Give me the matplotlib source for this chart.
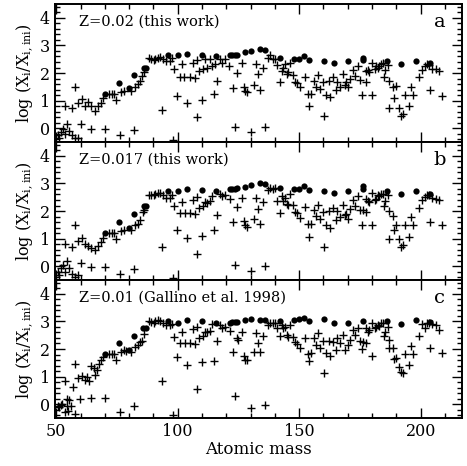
import numpy as np
import matplotlib
matplotlib.use("Agg")
import matplotlib.pyplot as plt
from matplotlib.ticker import MultipleLocator

plt.rcParams['font.family'] = ['DejaVu Serif']
plt.rcParams['mathtext.fontset'] = 'dejavuserif'

# ---- panel a : Z=0.02 (this work) ----
a_cross_mass = [50.9, 51.3, 52.0, 52.9, 53.6, 54.5, 55.2, 56.4, 57.7, 59.1, 60.2, 64.5, 70.1, 76.1, 81.9, 98.0,
                53.8, 56.6, 57.9, 59.0, 60.8, 62.0, 63.2, 64.2, 66.0, 67.2, 68.3, 69.4, 71.7, 72.8, 73.7, 74.8,
                76.7, 78.0, 80.9, 82.6, 83.5, 84.6, 85.3, 86.3, 88.0, 89.0, 90.1, 90.7, 91.7, 92.8, 93.9, 95.1,
                96.9, 97.6, 98.5, 101.0, 101.9, 102.7, 105.0, 106.1, 107.1, 108.0, 108.8, 110.5, 111.4, 112.1,
                113.2, 114.3, 115.2, 117.6, 118.4, 119.3, 121.1, 122.7, 124.4,
                93.7, 99.9, 103.9, 108.0, 109.8, 114.8, 116.2, 123.4,
                126.4, 127.1, 127.8, 128.7, 131.2, 133.9, 132.3, 133.2, 135.0, 130.1, 135.9, 137.3, 138.0, 139.1,
                140.0, 141.0, 142.8, 143.5, 144.1, 144.8, 145.5, 146.2, 147.3, 142.1, 148.2, 148.9, 150.5, 152.3,
                153.7, 154.8, 154.0, 156.0, 157.1, 157.8, 158.7, 159.8, 160.2, 160.9, 162.1, 162.8, 163.9, 165.0,
                165.5, 166.9, 168.0, 168.7, 170.1, 169.4, 171.0, 172.1, 172.8, 174.1, 175.1, 177.3, 175.9, 180.0,
                177.6, 178.2, 178.9, 180.0, 181.0, 181.7, 182.3, 183.0, 183.7, 184.4, 186.4, 185.5, 184.8, 187.1,
                188.5, 189.8, 188.9, 186.8, 190.9, 191.9, 192.6, 195.3, 193.7, 196.0, 196.9, 199.1, 200.5, 201.8,
                202.8, 203.5, 204.8, 206.2, 207.6, 203.9, 208.9]
a_cross_val = [-0.26, -0.34, -0.14, -0.01, -0.20, 0.15, -0.11, -0.26, -0.36, -0.34, 0.14, -0.02, -0.02, -0.26, -0.08, -0.44,
               0.82, 0.75, 1.51, 0.92, 1.06, 0.80, 0.94, 0.79, 0.64, 0.79, 0.91, 1.08, 1.24, 1.24, 1.24, 1.03,
               1.30, 1.36, 1.35, 1.51, 1.60, 1.72, 1.90, 2.02, 2.56, 2.52, 2.47, 2.52, 2.56, 2.59, 2.50, 2.44,
               2.44, 2.56, 2.14, 1.87, 2.32, 1.84, 1.84, 2.38, 1.83, 2.46, 2.08, 2.14, 2.52, 2.20,
               2.50, 2.26, 2.32, 2.52, 2.38, 2.50, 2.26, 1.44, 2.00,
               0.67, 1.18, 0.91, 0.40, 1.02, 1.24, 1.72, 0.04,
               2.38, 1.48, 1.36, 1.32, 1.56, 1.39, 2.32, 1.96, 2.20, -0.12, 0.04, 2.56, 2.64, 2.50,
               2.52, 2.28, 2.08, 2.20, 2.32, 1.96, 2.02, 2.38, 1.92, 1.66, 1.66, 1.63, 1.51, 1.84,
               1.24, 1.24, 0.79, 1.72, 1.51, 1.92, 1.42, 1.66, 0.43, 1.20, 1.72, 1.12, 1.84, 1.39,
               1.68, 1.48, 1.96, 1.56, 1.48, 1.66, 1.78, 2.11, 1.90, 2.26, 1.74, 1.66, 1.20, 1.20,
               2.08, 2.11, 2.04, 2.38, 2.16, 2.26, 2.20, 2.26, 2.32, 2.35, 2.28, 2.11, 1.87, 1.72,
               1.51, 1.54, 1.08, 0.72, 0.72, 0.46, 0.52, 0.79, 1.20, 1.51, 1.20, 1.84, 2.11, 2.26,
               2.32, 2.28, 2.14, 2.16, 2.08, 1.39, 1.18]
a_dot_mass = [70.1, 76.0, 79.8, 81.9, 86.0, 86.9, 95.9, 100.0, 104.0, 109.8, 115.6, 121.4, 122.3, 123.4, 124.4,
              127.8, 130.1, 133.9, 135.9, 142.1, 148.0, 150.0, 151.9, 154.1, 160.2, 164.2, 170.1, 176.2, 176.2,
              186.0, 191.9, 198.0, 203.9]
a_dot_val = [1.24, 1.63, 1.44, 1.92, 2.20, 2.20, 2.64, 2.64, 2.70, 2.67, 2.62, 2.64, 2.65, 2.65, 2.67,
             2.76, 2.80, 2.86, 2.83, 2.56, 2.52, 2.50, 2.60, 2.46, 2.44, 2.38, 2.44, 2.56, 2.47,
             2.44, 2.34, 2.44, 2.38]

# ---- panel b : Z=0.017 (this work) ----
b_cross_mass = [50.9, 51.3, 52.0, 52.9, 53.6, 54.5, 55.2, 56.4, 57.7, 59.1, 60.2, 64.5, 70.1, 76.1, 81.9, 98.0,
                53.8, 56.6, 57.9, 59.0, 60.8, 62.0, 63.2, 64.2, 66.0, 67.2, 68.3, 69.4, 71.7, 72.8, 73.7, 74.8,
                76.7, 78.0, 80.9, 82.6, 83.5, 84.6, 85.7, 86.3, 88.0, 89.0, 90.1, 90.7, 91.7, 92.8, 93.9, 95.1,
                96.9, 97.6, 98.5, 101.0, 101.9, 103.0, 105.0, 106.1, 107.1, 108.0, 108.8, 110.5, 111.4, 112.1,
                113.2, 114.3, 117.6, 118.4, 119.3, 121.4,
                93.7, 99.9, 103.9, 108.0, 109.8, 114.8, 116.2, 122.7, 124.4, 123.4,
                126.4, 127.1, 127.8, 128.7, 131.2, 133.9, 132.3, 133.2, 135.0, 130.1, 135.9, 137.3, 138.0, 139.1,
                140.0, 141.0, 142.8, 143.5, 144.1, 144.8, 145.5, 146.2, 147.3, 142.1, 148.2, 148.9, 150.5, 152.3,
                153.7, 154.8, 154.0, 156.0, 157.1, 157.8, 158.7, 159.8, 160.2, 160.9, 162.1, 162.8, 163.9, 165.0,
                165.5, 166.9, 168.0, 168.7, 170.1, 169.4, 171.0, 172.1, 172.8, 174.1, 175.1, 176.2, 177.3, 175.9,
                180.0, 177.6, 178.2, 178.9, 180.0, 181.0, 181.7, 182.3, 183.0, 183.7, 184.4, 186.4, 185.5, 184.8,
                187.1, 188.5, 189.8, 188.9, 186.8, 190.9, 191.9, 192.6, 195.3, 193.7, 196.0, 196.9, 199.1, 200.5,
                201.8, 202.8, 203.5, 204.8, 206.2, 207.6, 203.9, 208.9]
b_cross_val = [-0.20, -0.30, -0.05, 0.05, -0.22, 0.18, -0.05, -0.28, -0.38, -0.30, 0.12, -0.04, -0.04, -0.28, -0.10, -0.44,
               0.81, 0.69, 1.50, 0.90, 1.02, 0.81, 0.75, 0.65, 0.57, 0.75, 0.87, 1.02, 1.20, 1.20, 1.20, 0.99,
               1.26, 1.33, 1.31, 1.48, 1.54, 1.66, 1.96, 2.02, 2.59, 2.57, 2.57, 2.63, 2.65, 2.65, 2.57, 2.47,
               2.47, 2.57, 2.20, 1.93, 2.33, 1.93, 1.93, 2.39, 1.90, 2.51, 2.11, 2.18, 2.33, 2.30,
               2.35, 2.55, 2.63, 2.55, 2.57, 2.45,
               0.69, 1.30, 1.02, 0.45, 1.09, 1.32, 1.87, 1.60, 2.15, 0.05,
               2.47, 1.64, 1.50, 1.42, 1.72, 1.54, 2.47, 2.08, 2.33, -0.16, 0.00, 2.75, 2.84, 2.81,
               2.84, 2.35, 2.55, 2.35, 2.47, 2.27, 2.23, 2.63, 2.23, 1.93, 1.96, 1.93, 1.75, 2.15,
               1.54, 1.54, 1.05, 2.02, 1.82, 2.23, 1.72, 1.96, 0.69, 1.50, 1.99, 1.39, 2.11, 1.68,
               1.99, 1.78, 2.23, 1.87, 1.72, 1.90, 2.06, 2.39, 2.18, 2.55, 2.05, 2.02, 1.96, 1.50,
               1.50, 2.42, 2.35, 2.33, 2.67, 2.39, 2.45, 2.57, 2.55, 2.61, 2.63, 2.57, 2.35, 2.18,
               2.00, 1.82, 1.50, 1.33, 0.99, 0.99, 0.69, 0.78, 1.05, 1.50, 1.78, 1.50, 2.11, 2.39,
               2.51, 2.57, 2.59, 2.47, 2.45, 2.39, 1.62, 1.48]
b_dot_mass = [70.1, 76.0, 79.8, 81.9, 86.0, 86.9, 95.9, 100.0, 104.0, 109.8, 115.6, 121.4, 122.3, 123.4, 124.4,
              127.8, 130.1, 133.9, 135.9, 142.1, 148.0, 150.0, 151.9, 154.1, 160.2, 164.2, 170.1, 176.2, 176.2,
              186.0, 191.9, 198.0, 203.9]
b_dot_val = [1.20, 1.60, 1.39, 1.88, 2.20, 2.20, 2.72, 2.72, 2.79, 2.78, 2.73, 2.79, 2.81, 2.81, 2.84,
             2.87, 2.96, 3.02, 2.99, 2.84, 2.81, 2.81, 2.91, 2.75, 2.72, 2.65, 2.73, 2.90, 2.79,
             2.73, 2.63, 2.72, 2.63]

# ---- panel c : Z=0.01 (Gallino et al. 1998) ----
c_cross_mass = [50.9, 51.3, 52.0, 52.5, 53.6, 54.3, 54.5, 55.0, 55.4, 56.1, 57.7, 59.8, 64.5, 70.1, 76.1, 81.9, 98.0,
                53.8, 56.8, 57.9, 59.1, 60.5, 61.8, 62.6, 63.5, 64.5, 65.5, 66.0, 66.8, 67.7, 68.3, 69.4, 71.7,
                72.8, 73.7, 74.8, 76.7, 78.0, 78.8, 80.9, 82.6, 83.5, 84.6, 85.3, 86.3, 88.0, 89.0, 90.1, 90.7,
                91.7, 92.8, 93.9, 95.1, 96.9, 97.6, 98.5,
                101.0, 101.9, 103.0, 105.0, 106.1, 107.1, 108.0, 108.8, 110.5, 111.4, 112.1, 113.2, 114.3, 117.6,
                118.4, 119.3, 121.4,
                93.7, 99.9, 103.9, 108.0, 109.8, 114.8, 116.2, 122.7, 124.4,
                126.4, 125.0, 127.1, 127.8, 128.7, 131.2, 133.9, 132.3, 133.2, 135.0, 123.7, 130.1, 135.9, 137.3,
                138.0, 139.1, 140.0, 141.0, 142.8, 143.5, 144.1, 144.8, 145.5, 146.2, 147.3, 142.1, 148.2, 148.9,
                150.5, 152.3, 153.7, 154.8, 154.0, 156.0, 157.1, 157.8, 158.7, 159.8, 160.2, 160.9, 162.1, 162.8,
                163.9, 165.0, 165.5, 166.9, 168.0, 168.7, 170.1, 171.0, 172.1, 172.8, 174.1, 175.1, 176.2, 177.3,
                175.9, 180.0, 177.6, 178.2, 178.9, 180.0, 181.0, 181.7, 182.3, 183.0, 183.7, 184.4, 186.4, 185.5,
                184.8, 187.1, 188.5, 189.8, 188.9, 186.8, 190.9, 191.9, 192.6, 195.3, 193.7, 196.0, 196.9, 199.1,
                200.5, 201.8, 202.8, 203.5, 204.8, 206.2, 207.6, 203.9, 208.9]
c_cross_val = [-0.05, -0.10, -0.02, 0.00, -0.30, -0.06, 0.19, -0.24, 0.16, -0.08, -0.36, 0.19, 0.22, 0.24, -0.29, -0.08, -0.39,
               0.84, 0.64, 1.45, 0.94, 1.03, 0.87, 1.00, 0.85, 1.40, 1.30, 1.06, 1.25, 1.45, 1.60, 1.70, 1.81,
               1.81, 1.81, 1.60, 1.90, 1.96, 1.93, 1.90, 2.08, 2.14, 2.27, 2.30, 2.53, 3.00, 2.97, 2.95, 3.00,
               3.05, 3.00, 2.95, 2.88, 2.86, 2.92, 2.45,
               2.20, 2.63, 2.20, 2.20, 2.71, 2.17, 2.78, 2.39, 2.48, 2.63, 2.60, 2.65, 2.89, 2.87,
               2.77, 2.81, 2.65,
               0.84, 1.72, 1.42, 0.55, 1.52, 1.57, 2.29, 1.90, 2.41,
               2.63, 2.33, 1.76, 1.60, 1.60, 1.88, 1.90, 2.57, 2.20, 2.48, 0.31, -0.12, -0.02, 2.87,
               2.96, 2.93, 2.96, 2.77, 2.87, 2.75, 2.81, 2.51, 2.45, 2.87, 2.45, 2.48, 2.27, 2.17,
               2.02, 2.41, 1.81, 1.84, 1.57, 2.39, 2.14, 2.57, 2.05, 2.29, 1.12, 1.84, 2.29, 1.76,
               2.27, 1.96, 2.39, 2.20, 2.51, 1.96, 2.14, 2.33, 2.69, 2.51, 2.77, 2.29, 2.24, 2.20,
               2.00, 1.76, 2.77, 2.63, 2.69, 2.93, 2.77, 2.81, 2.87, 2.84, 2.93, 2.96, 2.81, 2.63,
               2.48, 2.33, 2.05, 1.69, 1.64, 2.02, 1.36, 1.16, 1.12, 1.42, 1.81, 2.12, 1.81, 2.48,
               2.89, 2.77, 2.93, 2.96, 2.89, 2.87, 2.69, 2.05, 1.84]
c_dot_mass = [70.1, 76.0, 79.8, 81.9, 85.7, 86.9, 95.9, 100.0, 104.0, 109.8, 115.6, 121.4, 122.3, 123.4, 124.4,
              127.8, 130.1, 133.9, 135.9, 142.1, 148.0, 150.0, 151.9, 154.1, 160.2, 164.2, 170.1, 176.2,
              186.0, 191.9, 198.0, 203.9]
c_dot_val = [1.81, 2.23, 1.96, 2.48, 2.75, 2.75, 3.01, 2.96, 3.05, 3.02, 2.96, 2.96, 2.99, 2.99, 2.99,
             3.05, 3.08, 3.05, 3.05, 3.01, 3.05, 3.08, 3.13, 3.01, 3.07, 2.96, 2.96, 3.01,
             3.01, 2.90, 3.05, 2.99]

titles = ['Z=0.02 (this work)', 'Z=0.017 (this work)', 'Z=0.01 (Gallino et al. 1998)']
letters = ['a', 'b', 'c']
panels = [(a_cross_mass, a_cross_val, a_dot_mass, a_dot_val),
          (b_cross_mass, b_cross_val, b_dot_mass, b_dot_val),
          (c_cross_mass, c_cross_val, c_dot_mass, c_dot_val)]

fig = plt.figure(figsize=(4.67, 4.66), dpi=100)
left, width = 55 / 467, 407 / 467
bottom0, h = 0.103, 0.2961

for k, (cm, cv, dm, dv) in enumerate(panels):
    ax = fig.add_axes([left, bottom0 + (2 - k) * h, width, h])
    ax.plot(cm, cv, '+', color='black', ms=5.5, mew=1.0)
    ax.plot(dm, dv, 'o', color='black', ms=4.5, mew=0)
    ax.set_xlim(49.5, 217)
    ax.set_ylim(-0.5, 4.5)
    ax.xaxis.set_major_locator(MultipleLocator(50))
    ax.xaxis.set_minor_locator(MultipleLocator(10))
    ax.yaxis.set_major_locator(MultipleLocator(1))
    ax.yaxis.set_minor_locator(MultipleLocator(0.2))
    ax.tick_params(which='both', direction='in', top=True, right=True, width=1)
    ax.tick_params(which='major', length=7, labelsize=11.5)
    ax.tick_params(which='minor', length=3.5)
    ax.set_yticks([0, 1, 2, 3, 4])
    for s in ax.spines.values():
        s.set_linewidth(1.4)
    ax.text(0.058, 0.87, titles[k], transform=ax.transAxes, fontsize=10.5, ha='left', va='center')
    ax.text(0.945, 0.87, letters[k], transform=ax.transAxes, fontsize=14, ha='center', va='center')
    ax.set_ylabel(r'log (X$_{\rm i}$/X$_{\rm i,ini}$)', fontsize=11.5, labelpad=3)
    if k < 2:
        ax.tick_params(labelbottom=False)
    else:
        ax.set_xlabel('Atomic mass', fontsize=12, labelpad=1)

fig.savefig('out.png', dpi=100)
